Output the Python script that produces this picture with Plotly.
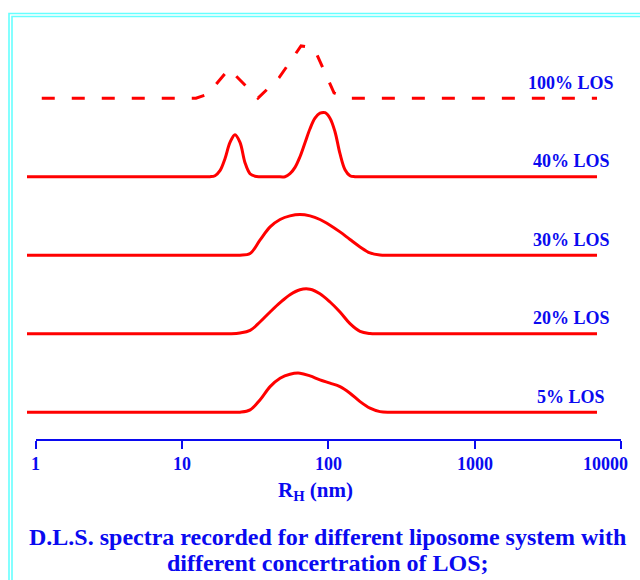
import numpy as np
import plotly.graph_objects as go

# ---------------- data ----------------
# hydrodynamic radius grid (nm) for the broad distributions
R_grid = [0.872, 2.75, 6.04, 13.27, 18.18, 21.29,
          24.9, 29.2, 34.1, 40.0, 46.8, 54.7, 64.0, 75.0, 87.7, 102.8,
          120.2, 140.7, 164.8, 192.8, 225.5,
          264.1, 309.2, 495.7, 1492, 6866]

los5_I = [0, 0, 0, 0, 0, 0,
          0, 2.3, 12.3, 25.6, 34, 38, 39, 36.3, 32.3, 29, 25.6, 19, 10.6, 4, 0.6,
          0, 0, 0, 0, 0]
los20_I = [0, 0, 0, 0, 0, 0,
           0.7, 3.3, 11.7, 21.7, 31, 39, 44, 44.5, 40, 31.7, 21.7, 10, 2.3, 0.2, 0,
           0, 0, 0, 0, 0]
los30_I = [0, 0, 0, 0, 0, 0,
           0, 1.7, 15, 28.3, 35.7, 39.3, 40.7, 39.3, 35.7, 30, 23.3, 15.7, 8.3, 2.3, 0.2,
           0, 0, 0, 0, 0]

los40_R = [0.872, 2.0, 4.0, 8.0, 12.0,
           15.54, 16.81, 18.18, 19.67, 21.29, 23.03, 24.92, 26.96, 29.16, 31.55, 34.13,
           40.0, 45.0,
           50.58, 54.72, 59.21, 64.05, 69.30, 74.97, 81.10, 87.75, 94.94, 102.7,
           111.1, 120.2, 130.1, 140.7, 152.2,
           200, 400, 1000, 2500, 6866]
los40_I = [0, 0, 0, 0, 0,
           0, 1, 6, 18, 34.3, 42, 34.3, 14, 3, 0.5, 0,
           0, 0,
           0, 3, 9.3, 20, 34, 48, 58.5, 63.5, 64, 58.5,
           45, 23, 7, 1, 0,
           0, 0, 0, 0, 0]

los100_R = [1.1, 12.46, 14.94, 20.96, 33.07, 46.0, 65.1, 79.9, 109.4, 136.4, 6866]
los100_I = [0, 0, 3.9, 29.3, 0, 20.3, 52.3, 50.1, 5.3, 0, 0]

series_labels = ["5% LOS", "20% LOS", "30% LOS", "40% LOS", "100% LOS"]
tick_vals = [1, 10, 100, 1000, 10000]
tick_text = ["1", "10", "100", "1000", "10000"]

# ---------------- styling ----------------
W, H = 640, 580
RED = "#FF0000"
BLUE = "#0A0AF0"
CYAN = "#66FFFF"
FONT = "Liberation Serif"
base0 = 167.8      # vertical offset of lowest curve (plot units)
step = 78.5        # vertical spacing between stacked curves
px_decade = 146.3
x_first_tick = 35.7

curves = [
    (R_grid, los5_I, "solid"),
    (R_grid, los20_I, "solid"),
    (R_grid, los30_I, "solid"),
    (los40_R, los40_I, "solid"),
    (los100_R, los100_I, "dash"),
]

fig = go.Figure()
for i, (rr, ii, kind) in enumerate(curves):
    off = base0 + i * step
    yy = [off + v for v in ii]
    if kind == "solid":
        line = dict(color=RED, width=3, shape="spline", smoothing=1.0)
    else:
        line = dict(color=RED, width=3, dash="13px,17px", shape="linear")
    fig.add_trace(go.Scatter(x=rr, y=yy, mode="lines", line=line,
                             showlegend=False, hoverinfo="skip"))

# empty trace to carry the visible axis
fig.add_trace(go.Scatter(x=[], y=[], xaxis="x2", yaxis="y",
                         showlegend=False, hoverinfo="skip"))

lo = -x_first_tick / px_decade
hi = (W - x_first_tick) / px_decade
x2_left = x_first_tick / W
x2_right = (x_first_tick + 4 * px_decade) / W
axis_y_px = 440

annotations = []
for i, lab in enumerate(series_labels):
    annotations.append(dict(
        text=lab, xref="paper", x=571 / W, xanchor="center",
        yref="y", y=base0 + i * step + 15.5, yanchor="middle",
        showarrow=False,
        font=dict(family=FONT, size=18, color=BLUE, weight="bold")))

for v, t in zip(tick_vals, tick_text):
    last = (v == tick_vals[-1])
    annotations.append(dict(
        text=t, xref="x2", x=float(np.log10(v)),
        xanchor="right" if last else "center", xshift=9 if last else 0,
        yref="paper", y=(H - 464) / H, yanchor="middle", showarrow=False,
        font=dict(family=FONT, size=18, color=BLUE, weight="bold")))

annotations.append(dict(
    text="R<sub>H</sub> (nm)", xref="paper", x=315 / W, xanchor="center",
    yref="paper", y=(H - 491) / H, yanchor="middle", showarrow=False,
    font=dict(family=FONT, size=21, color=BLUE, weight="bold")))

annotations.append(dict(
    text="D.L.S. spectra recorded for different liposome system with",
    xref="paper", x=327.5 / W, xanchor="center",
    yref="paper", y=(H - 537) / H, yanchor="middle", showarrow=False,
    font=dict(family=FONT, size=24, color=BLUE, weight="bold")))
annotations.append(dict(
    text="different concertration of LOS;",
    xref="paper", x=327.5 / W, xanchor="center",
    yref="paper", y=(H - 563) / H, yanchor="middle", showarrow=False,
    font=dict(family=FONT, size=24, color=BLUE, weight="bold")))

def border_path(px_x, px_y):
    X = px_x / W
    Y = 1 - px_y / H
    return f"M {X},0 L {X},{Y} L 1.0,{Y}"

shapes = [
    dict(type="path", xref="paper", yref="paper", path=border_path(9, 13.5),
         line=dict(color=CYAN, width=1.6)),
    dict(type="path", xref="paper", yref="paper", path=border_path(12, 16.5),
         line=dict(color=CYAN, width=1.6)),
]

fig.update_layout(
    width=W, height=H,
    margin=dict(l=0, r=0, t=0, b=0, pad=0),
    paper_bgcolor="white", plot_bgcolor="rgba(0,0,0,0)",
    xaxis=dict(type="log", range=[lo, hi], domain=[0, 1], visible=False),
    xaxis2=dict(type="log", range=[0, 4], domain=[x2_left, x2_right],
                anchor="free", position=(H - axis_y_px) / H,
                showline=True, linecolor=BLUE, linewidth=2,
                ticks="outside", ticklen=8, tickwidth=2, tickcolor=BLUE,
                tickvals=tick_vals, showticklabels=False,
                showgrid=False, zeroline=False),
    yaxis=dict(range=[0, H], domain=[0, 1], visible=False),
    annotations=annotations,
    shapes=shapes,
)

fig.write_html("out.html")
